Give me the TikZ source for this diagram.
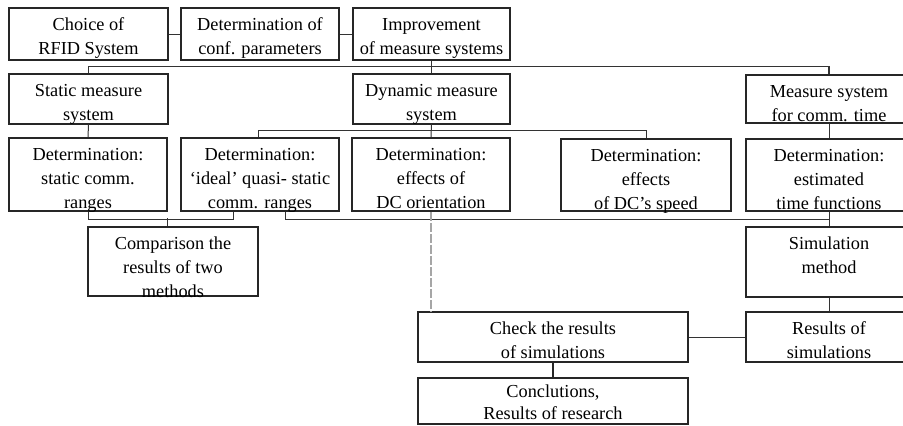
\documentclass[tikz,border=0pt]{standalone}
\usepackage{fontspec}
\setmainfont{Liberation Serif}
\newcommand\bt[3]{\parbox[c][#2pt][t]{#1pt}{\centering\rule{0pt}{22pt}#3\par}}
\begin{document}
\begin{tikzpicture}[x=1pt,y=-1pt,
  box/.style={draw=black!85,line width=1.1pt,inner sep=0pt,font=\fontsize{18.3}{24}\selectfont},
  tbox/.style={box,line width=1.8pt},
  conn/.style={draw=black!80,line width=1pt},
  busline/.style={draw=black!80,line width=1.4pt},
  grayline/.style={draw=black!35,line width=2pt,dash pattern=on 9pt off 2pt}]
\useasboundingbox (0,0) rectangle (903,426);
\clip (0,0) rectangle (903,426);
% row 1
\node[box] (choice) at (88.5,34) {\bt{159}{52}{Choice of\\RFID System}};
\node[box] (conf) at (260,34) {\bt{158}{52}{Determination of\\conf. parameters}};
\node[box] (impr) at (431.5,34) {\bt{157}{52}{Improvement\\of measure systems}};
% row 2
\node[box] (static) at (88.5,99) {\bt{159}{50}{Static measure\\system}};
\node[box] (dyn) at (431.5,99) {\bt{157}{50}{Dynamic measure\\system}};
\node[box] (meas) at (829,99) {\bt{166}{48}{Measure system\\for comm. time}};
% row 3
\node[tbox] (dstat) at (88,174.5) {\bt{158}{73}{Determination:\\static comm.\\ranges}};
\node[tbox] (dideal) at (260,174.5) {\bt{158}{73}{Determination:\\`ideal' quasi- static\\comm. ranges}};
\node[tbox] (dorient) at (431,174.5) {\bt{158}{73}{Determination:\\effects of\\DC orientation}};
\node[tbox] (dspeed) at (646,175) {\bt{170}{72}{Determination:\\effects\\of DC's speed}};
\node[tbox] (dest) at (829,175) {\bt{166}{72}{Determination:\\estimated\\time functions}};
% lower
\node[box] (comp) at (173,261.5) {\bt{170}{69}{Comparison the\\results of two\\methods}};
\node[box] (sim) at (829,262) {\bt{166}{70}{Simulation\\method}};
\node[box] (check) at (553,337) {\bt{270}{50}{Check the results\\of simulations}};
\node[box] (res) at (829,337) {\bt{166}{50}{Results of\\simulations}};
\node[box] (concl) at (553,401) {\parbox[c][46pt][t]{270pt}{\centering\rule{0pt}{19pt}Conclutions,\\[-2pt]Results of research\par}};
% connectors
\draw[conn] (choice.east) -- (conf.west);
\draw[conn] (conf.east) -- (impr.west);
\draw[busline] (impr.south) -- (dyn.north);
\draw[busline] (static.north) -- ++(0,-7) -| (meas.north);
\draw[conn] (static.south) -- (dstat.north);
\draw[conn] (meas.south) -- (dest.north);
\draw[conn] (dyn.south) -- (dorient.north);
\draw[conn] ([xshift=-2pt]dideal.north) -- ++(0,-7) -| (dspeed.north);
\draw[conn] (dstat.south) -- ++(0,8) -| ([xshift=-27pt]dideal.south);
\draw[conn] ([xshift=-6pt]comp.north) -- ++(0,-8);
\draw[conn] ([xshift=25pt]dideal.south) -- ++(0,8) -| (sim.north);
\draw[conn] (dest.south) -- (sim.north);
\draw[grayline] (dorient.south) -- (dorient.south |- check.north);
\draw[conn] (check.east) -- (res.west);
\draw[conn] (sim.south) -- (res.north);
\draw[draw=black!85,line width=2pt] (check.south) -- (concl.north);
\end{tikzpicture}
\end{document}
